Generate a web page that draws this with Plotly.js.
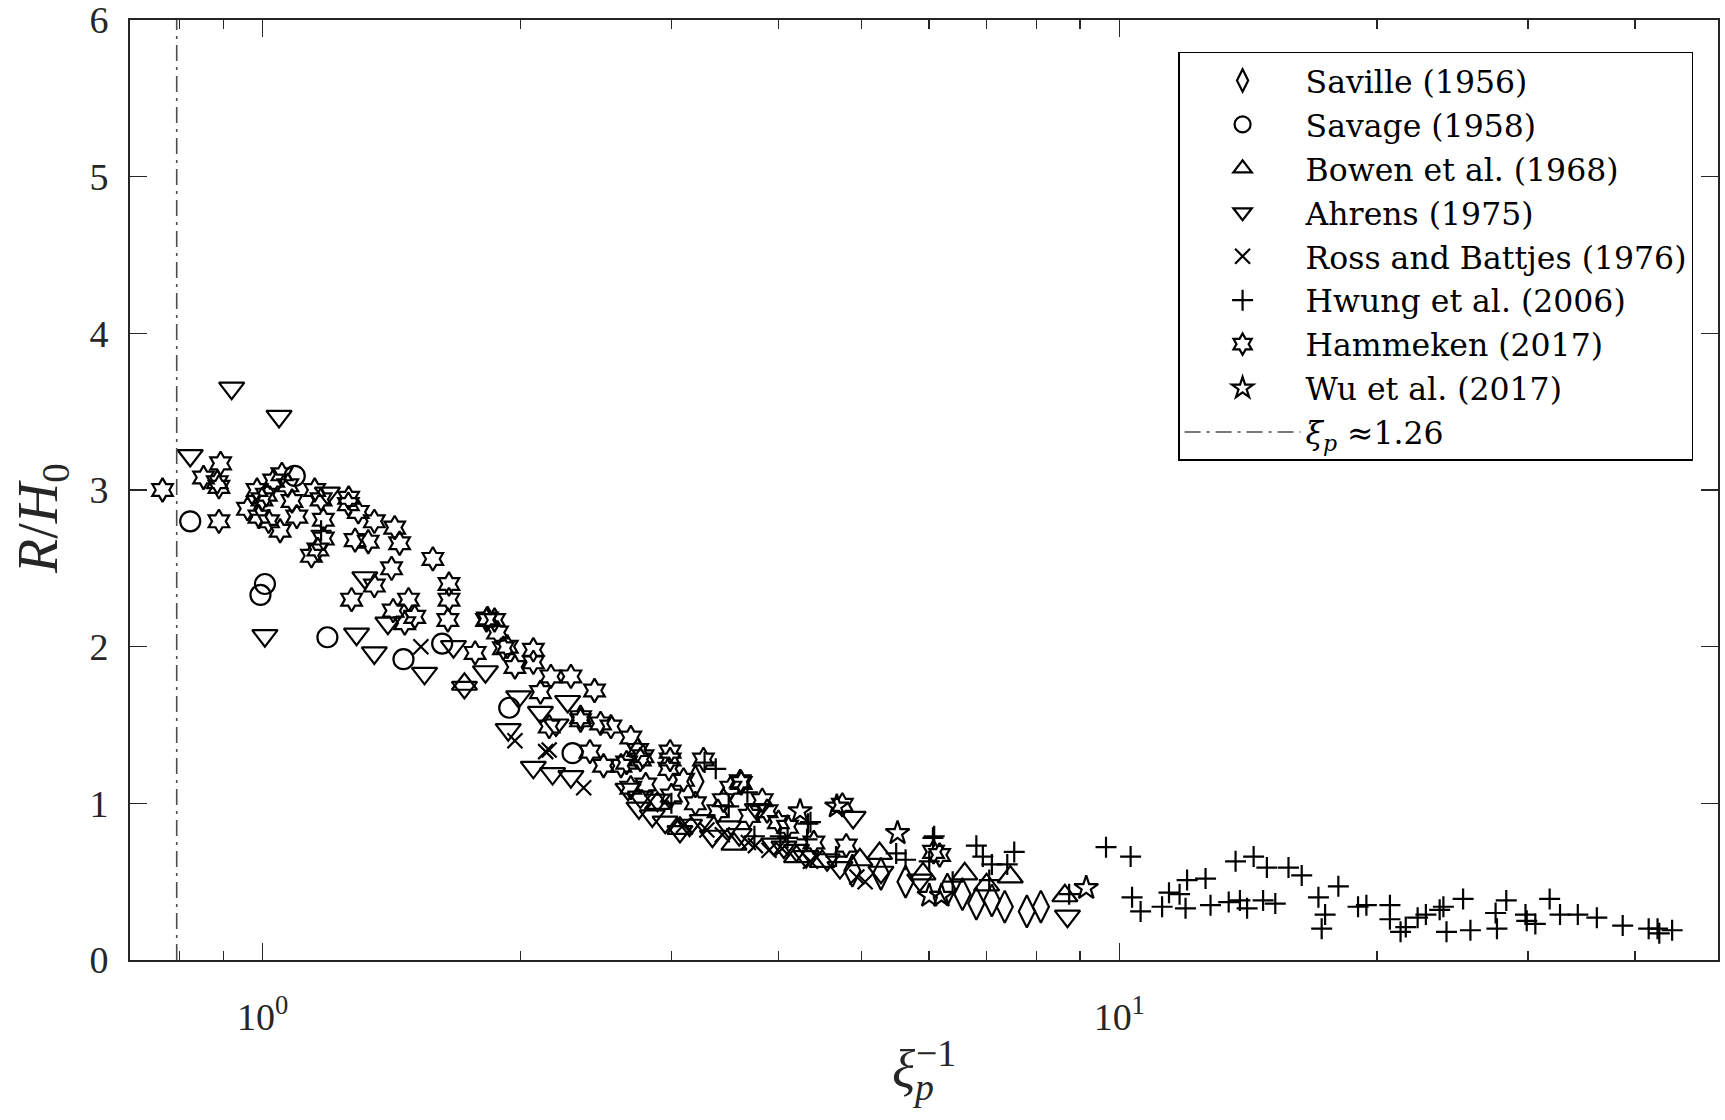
<!DOCTYPE html>
<html>
<head>
<meta charset="utf-8">
<script src="https://cdn.plot.ly/plotly-3.0.1.min.js"></script>
<style>html,body{margin:0;padding:0;background:#fff;}#chart{width:1725px;height:1120px;}</style>
</head>
<body>
<div id="chart"></div>
<script>
// ---- data (x = xi_p^-1, y = R/H0) ----
const savilleX = [3.2, 4.88, 5.27, 5.63, 6.3, 6.56, 6.81, 7.1, 7.35, 7.8, 8.1];
const savilleY = [1.14, 0.57, 0.55, 0.50, 0.45, 0.42, 0.36, 0.38, 0.34, 0.31, 0.34];

const savageX = [0.823, 1.006, 0.994, 1.09, 1.19, 1.46, 1.62, 1.94, 2.30];
const savageY = [2.80, 2.40, 2.33, 3.09, 2.06, 1.92, 2.02, 1.61, 1.32];

const bowenX = [1.72, 2.89, 3.07, 3.55, 4.2, 4.5, 4.98, 5.25, 5.9, 6.6, 7.0, 7.46, 8.64];
const bowenY = [1.76, 1.00, 0.84, 0.74, 0.66, 0.63, 0.64, 0.68, 0.55, 0.55, 0.48, 0.53, 0.41];

const ahrensX = [0.92, 1.045, 0.823, 1.006, 1.19, 1.287, 1.35, 1.316, 1.40, 1.545, 1.67, 1.72, 1.82,
  1.935, 1.99, 2.07, 2.11, 2.18, 2.20, 2.27, 2.29, 2.67, 2.76, 2.85, 2.89, 3.07, 3.26, 3.5, 3.78,
  4.06, 4.31, 4.56, 4.72, 4.89, 5.27, 5.85, 8.7,
  2.75, 2.95, 3.15, 3.35, 3.6, 3.95, 4.2];
const ahrensY = [3.65, 3.47, 3.22, 2.07, 2.98, 2.08, 1.96, 2.44, 2.15, 1.83, 2.00, 1.74, 1.84,
  1.47, 1.68, 1.23, 1.58, 1.19, 1.50, 1.65, 1.17, 1.09, 1.04, 0.92, 1.02, 0.82, 0.89, 0.85, 0.96,
  0.72, 0.66, 0.64, 0.59, 0.91, 0.56, 0.51, 0.28,
  0.97, 0.88, 0.86, 0.79, 0.80, 0.74, 0.70];

const rossX = [1.53, 1.97, 2.16, 2.37, 2.14, 3.44, 3.69, 3.76, 4.04, 4.36, 4.94, 5.05, 3.1, 3.3, 3.9];
const rossY = [2.00, 1.40, 1.34, 1.10, 1.33, 0.80, 0.75, 0.73, 0.71, 0.63, 0.53, 0.50, 0.86, 0.83, 0.70];

const hwungX = [1.17, 3.28, 3.38, 3.68, 4.02, 4.32, 4.36, 4.33, 4.67, 5.49, 5.63, 6.0, 6.06, 6.08,
  6.39, 6.81, 6.93, 7.05, 7.1, 7.4, 7.54, 8.74, 9.65, 10.31, 10.35, 10.59, 11.22, 11.43, 11.76,
  11.95, 12.0, 12.61, 12.78, 13.42, 13.67, 13.83, 14.1, 14.35, 14.72, 14.87, 15.21, 15.76, 16.33,
  17.08, 17.23, 17.39, 18.02, 19.0, 19.43, 20.7, 20.7, 21.3, 21.6, 22.3, 22.8, 23.66, 23.9, 24.1,
  25.2, 25.7, 27.5, 27.6, 28.3, 29.8, 29.9, 30.6, 31.8, 32.7, 34.3, 36.1, 38.7, 41.5, 42.5, 42.7, 44.2,
  3.0, 3.5, 3.75, 4.1];
const hwungY = [2.74, 1.26, 1.22, 1.07, 0.79, 0.77, 0.88, 0.87, 0.66, 0.68, 0.64, 0.63, 0.78, 0.79,
  0.50, 0.73, 0.66, 0.51, 0.61, 0.61, 0.69, 0.42, 0.72, 0.66, 0.40, 0.31, 0.34, 0.43, 0.42,
  0.33, 0.51, 0.52, 0.35, 0.37, 0.63, 0.38, 0.33, 0.66, 0.38, 0.59, 0.36, 0.59, 0.54,
  0.40, 0.20, 0.29, 0.47, 0.34, 0.35, 0.35, 0.26, 0.18, 0.21, 0.27, 0.29, 0.32, 0.34, 0.18,
  0.39, 0.19, 0.30, 0.20, 0.38, 0.29, 0.25, 0.23, 0.39, 0.29, 0.29, 0.27, 0.22, 0.20, 0.20, 0.17, 0.19,
  1.00, 0.98, 0.79, 0.78];

const hammekenX = [0.764, 0.853, 0.893, 0.885, 0.889, 0.889, 0.985, 0.998, 0.99, 1.016, 1.03, 1.053,
  1.048, 1.082, 1.096, 1.15, 1.17, 1.177, 1.177, 1.14, 1.16, 1.259, 1.293, 1.282, 1.328, 1.35,
  1.426, 1.445, 1.414, 1.58, 1.27, 1.35, 1.42, 1.48, 1.505, 1.465, 1.65, 1.65, 1.645, 1.825,
  1.865, 1.88, 1.93, 1.77, 1.26, 1.01, 1.07, 0.96,
  1.83, 2.07, 2.07, 2.29, 2.44, 2.17, 2.35, 2.48, 2.55, 2.69, 2.76, 2.99, 2.99, 2.62, 2.41, 2.50,
  2.16, 1.97, 2.11, 1.91, 2.35, 2.78, 2.74, 2.66, 2.69, 2.98,
  3.27, 3.61, 3.83, 3.52, 3.62, 3.88, 4.75, 4.8, 6.17, 6.07, 3.1, 3.4, 4.0,
  2.8, 3.0, 3.2, 3.45, 3.7, 4.1, 4.4];
const hammekenY = [3.00, 3.08, 3.17, 3.05, 3.02, 2.80, 3.00, 2.94, 2.83, 2.80, 3.06, 3.10,
  2.74, 2.93, 2.83, 3.00, 2.94, 2.81, 2.69, 2.58, 2.62, 2.91, 2.86, 2.68, 2.67, 2.80,
  2.76, 2.66, 2.50, 2.56, 2.30, 2.39, 2.23, 2.30, 2.19, 2.15, 2.40, 2.30, 2.17, 2.17,
  2.17, 2.09, 2.00, 1.96, 2.95, 2.97, 3.03, 2.88,
  2.18, 1.98, 1.90, 1.81, 1.72, 1.81, 1.55, 1.51, 1.49, 1.42, 1.28, 1.33, 1.28, 1.24, 1.33, 1.24,
  1.49, 1.87, 1.71, 1.99, 1.53, 1.30, 1.34, 1.26, 1.10, 1.22,
  1.28, 1.14, 1.02, 1.10, 1.13, 0.95, 0.99, 0.73, 0.67, 0.69, 1.15, 0.95, 0.88,
  1.12, 1.05, 1.00, 1.02, 0.92, 0.85, 0.75];

const wuX = [4.24, 4.68, 5.51, 6.0, 6.2, 9.15];
const wuY = [0.95, 0.98, 0.81, 0.41, 0.41, 0.46];

const xiP = 1.26;               // breaking-limit line, xi_p ~ 1.26
const lineX = [1 / xiP, 1 / xiP];
const lineY = [0, 6];

const xTickVals = [1, 10];
const xTickText = ['10<sup>0</sup>', '10<sup>1</sup>'];
const xMinorVals = [0.8, 0.9, 2, 3, 4, 5, 6, 7, 8, 9, 20, 30, 40, 50];
const yTickVals = [0, 1, 2, 3, 4, 5, 6];

// ---- styling ----
const ink = 'black';
const axisCol = '#262626';
const serif = 'Liberation Serif, Times New Roman, serif';
const legendSerif = 'DejaVu Serif, serif';

function pts(name, x, y, symbol, size) {
  return {
    type: 'scatter', mode: 'markers', name: name, x: x, y: y,
    marker: { symbol: symbol, size: size, color: ink, line: { color: ink, width: 2.2 } },
    cliponaxis: true
  };
}

const traces = [
  pts('Saville (1956)', savilleX, savilleY, 'diamond-tall-open', 23),
  pts('Savage (1958)', savageX, savageY, 'circle-open', 20),
  pts('Bowen et al. (1968)', bowenX, bowenY, 'triangle-up-open', 22),
  pts('Ahrens (1975)', ahrensX, ahrensY, 'triangle-down-open', 22),
  pts('Ross and Battjes (1976)', rossX, rossY, 'x-thin-open', 15),
  pts('Hwung et al. (2006)', hwungX, hwungY, 'cross-thin-open', 15),
  pts('Hammeken (2017)', hammekenX, hammekenY, 'hexagram-open', 18),
  pts('Wu et al. (2017)', wuX, wuY, 'star-open', 18),
  {
    type: 'scatter', mode: 'lines', name: '<i>ξ<sub>p</sub></i> ≈1.26',
    x: lineX, y: lineY,
    line: { color: '#4d4d4d', width: 1.6, dash: '16px,6px,3px,6px' }
  }
];

const layout = {
  width: 1725, height: 1120,
  margin: { l: 130, r: 7, t: 20, b: 160, pad: 0 },
  paper_bgcolor: 'white', plot_bgcolor: 'white',
  font: { family: serif, color: axisCol, size: 38 },
  showlegend: true,
  xaxis: {
    type: 'log',
    range: [Math.log10(0.7), Math.log10(50)],
    tickmode: 'array', tickvals: xTickVals, ticktext: xTickText,
    ticks: 'inside', ticklen: 17, tickwidth: 1.5, tickcolor: axisCol,
    minor: { tickmode: 'array', tickvals: xMinorVals, ticks: 'inside', ticklen: 9, tickwidth: 1.5, tickcolor: axisCol, showgrid: false },
    showline: true, linecolor: axisCol, linewidth: 2, mirror: 'ticks',
    showgrid: false, zeroline: false,
    tickfont: { family: serif, size: 38, color: axisCol },
    ticklabelstandoff: 22,
    ticklabeloverflow: 'allow',
    title: {
      text: '<i>ξ</i><sub><span style="letter-spacing:-18px"><i>p</i></span></sub><sup>−1</sup>',
      font: { family: serif, size: 54, color: axisCol }, standoff: 14
    }
  },
  yaxis: {
    range: [0, 6],
    tickmode: 'array', tickvals: yTickVals,
    ticks: 'inside', ticklen: 17, tickwidth: 1.5, tickcolor: axisCol,
    showline: true, linecolor: axisCol, linewidth: 2, mirror: 'ticks',
    showgrid: false, zeroline: false,
    tickfont: { family: serif, size: 38, color: axisCol },
    ticklabelstandoff: 12,
    ticklabeloverflow: 'allow',
    title: { text: '<i>R</i>/<i>H</i><sub>0</sub>&nbsp;&nbsp;&nbsp;&nbsp;', font: { family: serif, size: 56, color: axisCol }, standoff: 14 }
  },
  legend: {
    x: 0.66, y: 0.966, xanchor: 'left', yanchor: 'top',
    bgcolor: 'white', bordercolor: 'black', borderwidth: 1.5,
    font: { family: legendSerif, size: 31.5, color: 'black' },
    itemwidth: 116,
    tracegroupgap: 0
  }
};

Plotly.newPlot('chart', traces, layout, { staticPlot: true, displayModeBar: false });
</script>
</body>
</html>
